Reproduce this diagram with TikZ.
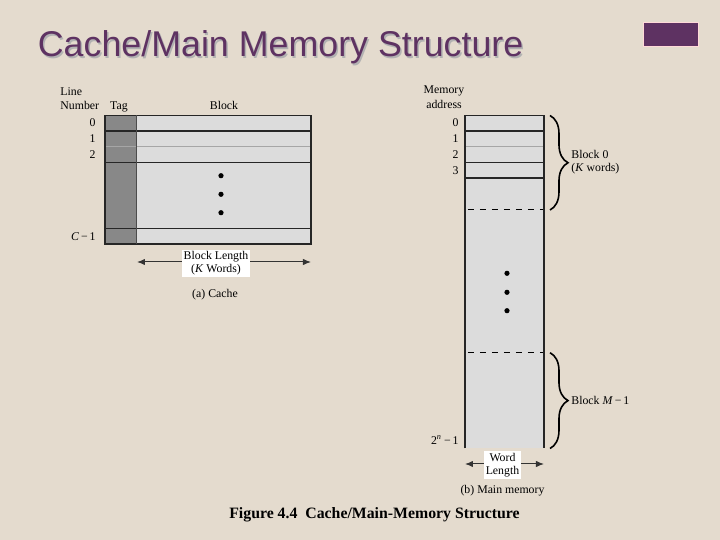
\documentclass[tikz,border=0pt]{standalone}
\usepackage{fontspec}
\setmainfont{Liberation Serif}
\newfontfamily\titlefont{Liberation Sans}
\usetikzlibrary{decorations.pathreplacing,arrows.meta}
\definecolor{slidebg}{HTML}{E4DBCE}
\definecolor{plum}{HTML}{5E3262}
\definecolor{cellfill}{HTML}{DCDCDC}
\definecolor{tagfill}{HTML}{888888}

\tikzset{
  lbl/.style={font=\fontsize{5.9}{6.5}\selectfont, inner sep=0pt},
  rowline/.style={line width=0.6pt, black!85},
  thinrow/.style={line width=0.35pt, black!35},
  lenarrow/.style={{Latex[length=4pt,width=3.2pt]}-{Latex[length=4pt,width=3.2pt]}, line width=0.5pt, black!80},
  curly/.style={decorate, decoration={brace, amplitude=9pt}, line width=0.8pt},
  whitelbl/.style={lbl, fill=white, inner xsep=1pt, inner ysep=1pt, align=center}
}

\begin{document}
\begin{tikzpicture}[x=0.5pt,y=-0.5pt]
  \fill[slidebg] (0,0) rectangle (720,540);

  % slide title
  \node[anchor=base west, inner sep=0pt, text=black!30, font=\titlefont\fontsize{17.9}{20}\selectfont] at (39,58.5) {Cache/Main Memory Structure};
  \node[anchor=base west, inner sep=0pt, text=plum, font=\titlefont\fontsize{17.9}{20}\selectfont] (title) at (37.5,57) {Cache/Main Memory Structure};
  \fill[plum, draw=pink!60, line width=0.4pt] (643,22) rectangle (698,46.5);

  % (a) cache
  \fill[cellfill] (137,115.5) rectangle (311,244);
  \fill[tagfill] (105,115.5) rectangle (137,244);
  \draw[thinrow] (105,146.7) -- (311,146.7);
  \foreach \y in {131,162.3,228.7}
    \draw[rowline] (105,\y) -- (311,\y);
  \draw[line width=0.6pt, black!85] (105,115.5) rectangle (311,244);
  \draw[line width=0.5pt, black!70] (137,115.5) -- (137,244);
  \foreach \y in {175.7,194.3,212.7}
    \fill (221,\y) circle (2.6);

  \node[lbl, anchor=base west] (linehd) at (60,96) {Line};
  \node[lbl, anchor=base west] (numhd) at (60,110) {Number};
  \node[lbl, anchor=base] (taghd) at (119,110) {Tag};
  \node[lbl, anchor=base] (blockhd) at (224,110) {Block};
  \node[lbl, anchor=east] (line0) at (96,122.7) {0};
  \node[lbl, anchor=east] (line1) at (96,138.5) {1};
  \node[lbl, anchor=east] (line2) at (96,154.3) {2};
  \node[lbl, anchor=east] (linec) at (96,237) {\textit{C}\,−\,1};

  \coordinate (blkleft) at (137,262);
  \coordinate (blkright) at (311,262);
  \draw[lenarrow] (blkleft) -- (blkright);
  \node[whitelbl] (blklen) at (216,263.5) {Block Length\\(\textit{K} Words)};
  \node[lbl] (capa) at (215,295) {(a) Cache};

  % (b) main memory
  \fill[cellfill] (465,115.5) rectangle (544,448.5);
  \draw[thinrow] (465,146.7) -- (544,146.7);
  \foreach \y in {131,162.3,178}
    \draw[rowline] (465,\y) -- (544,\y);
  \draw[dashed, line width=0.5pt] (468,210) -- (544,210);
  \draw[dashed, line width=0.5pt] (468,352.7) -- (544,352.7);
  \draw[line width=0.6pt, black!85] (465,448.5) -- (465,115.5) -- (544,115.5) -- (544,448.5);
  \foreach \y in {273.3,292.3,310.7}
    \fill (507,\y) circle (2.6);

  \node[lbl, anchor=base] (memhd) at (444,94) {Memory};
  \node[lbl, anchor=base] (addrhd) at (444,108.5) {address};
  \node[lbl, anchor=east] (addr0) at (459,122.7) {0};
  \node[lbl, anchor=east] (addr1) at (459,138.5) {1};
  \node[lbl, anchor=east] (addr2) at (459,154.3) {2};
  \node[lbl, anchor=east] (addr3) at (459,170.3) {3};
  \node[lbl, anchor=east] (addrn) at (459,440) {2\textsuperscript{\itshape n}\,−\,1};

  \coordinate (b0top) at (550,115.5);
  \coordinate (b0bot) at (550,210);
  \draw[curly] (b0top) -- (b0bot);
  \node[lbl, anchor=west, align=left] (blk0) at (571,162.5) {Block 0\\(\textit{K} words)};
  \coordinate (bmtop) at (550,352.7);
  \coordinate (bmbot) at (550,448.5);
  \draw[curly] (bmtop) -- (bmbot);
  \node[lbl, anchor=west] (blkm) at (571,400.5) {Block \textit{M}\,−\,1};

  \coordinate (wordleft) at (465,464);
  \coordinate (wordright) at (544,464);
  \draw[lenarrow] (wordleft) -- (wordright);
  \node[whitelbl] (wordlen) at (502.5,465) {Word\\Length};
  \node[lbl] (capb) at (502.5,491) {(b) Main memory};

  \node[inner sep=0pt, anchor=base, font=\bfseries\fontsize{7.9}{9}\selectfont] (figcap) at (374.5,519) {Figure 4.4\ \ Cache/Main-Memory Structure};
\end{tikzpicture}
\end{document}
